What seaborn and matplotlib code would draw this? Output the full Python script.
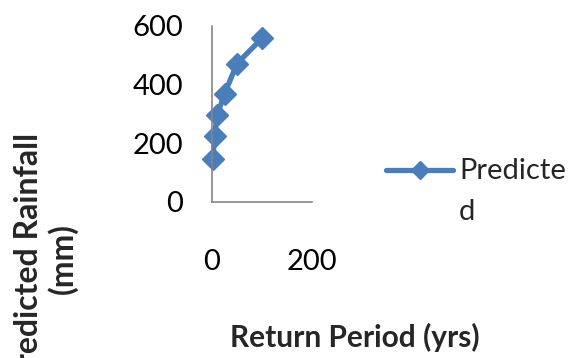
import matplotlib
matplotlib.use("Agg")
import matplotlib.pyplot as plt
import seaborn as sns
import pandas as pd

# Data
return_period = [2, 5, 10, 25, 50, 100]
rainfall = [148, 225, 295, 368, 472, 558]
series_label = "Predicte\nd"
x_ticks = [0, 200]
y_ticks = [0, 200, 400, 600]
x_title = "Return Period (yrs)"
y_title = "Predicted Rainfall\n(mm)"

sns.set_style("white")
plt.rcParams['font.family'] = ['Lato', 'DejaVu Sans']

W, H = 573, 358
fig = plt.figure(figsize=(W / 100, H / 100), dpi=100)
ax = fig.add_axes([212 / W, 1 - 202 / H, 100 / W, 176 / H])

df = pd.DataFrame({"rp": return_period, "rain": rainfall})
blue = "#4a7ebb"
sns.lineplot(data=df, x="rp", y="rain", ax=ax, color=blue, linewidth=3.8,
             marker="D", markersize=11.5, markeredgecolor=blue, markeredgewidth=1,
             label=series_label, clip_on=False)

ax.set_xlim(0, 200)
ax.set_ylim(0, 600)
ax.set_xticks(x_ticks)
ax.set_yticks(y_ticks)
ax.set_xlabel("")
ax.set_ylabel("")
for s in ["top", "right"]:
    ax.spines[s].set_visible(False)
for s in ["left", "bottom"]:
    ax.spines[s].set_color("#868686")
    ax.spines[s].set_linewidth(1.2)
ax.tick_params(axis="both", length=0, labelsize=21, colors="#000000")
ax.tick_params(axis="y", pad=21)
ax.tick_params(axis="x", pad=34)

leg = ax.legend(loc="upper left", bbox_to_anchor=(386 / W, 1 - 158 / H),
                bbox_transform=fig.transFigure, frameon=False, fontsize=21,
                handlelength=2.3, handleheight=1.2, handletextpad=0.2,
                borderpad=0, borderaxespad=0)
for t in leg.get_texts():
    t.set_linespacing(1.7)
# align the legend handle with the first line of the wrapped label
for col in leg._legend_handle_box.get_children():
    for item in col.get_children():
        item.align = "top"
for ln in leg.get_lines():
    ln.set_markersize(9)

fig.text(355 / W, 1 - 337 / H, x_title, ha="center", va="center",
         fontsize=21.5, fontweight="bold")
fig.text(46 / W, 1 - 259 / H, y_title, ha="center", va="center",
         rotation=90, fontsize=23, fontweight="bold", linespacing=1.15)

fig.savefig("out.png", dpi=100)
